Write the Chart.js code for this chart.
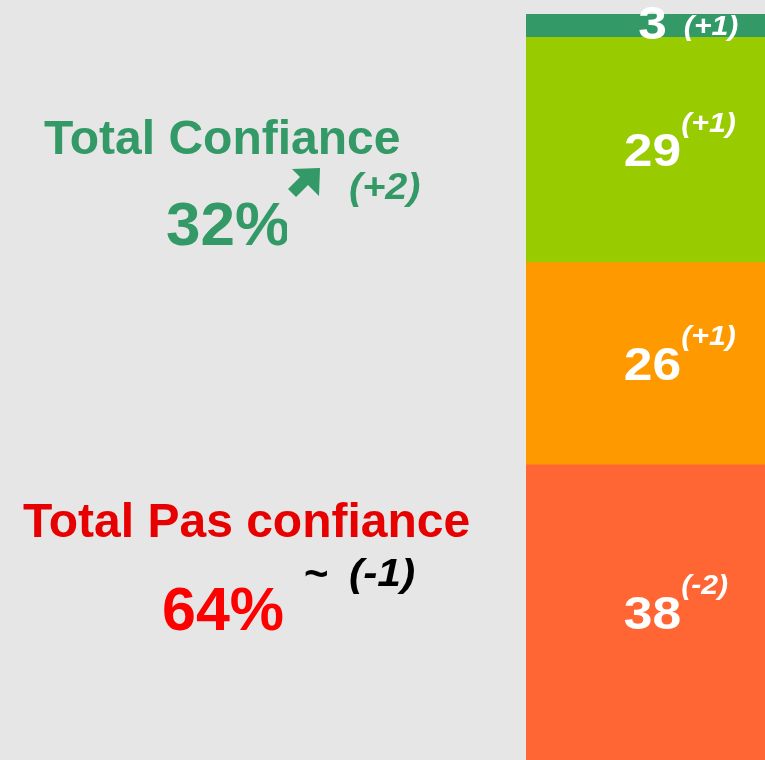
<!DOCTYPE html>
<html>
<head>
<meta charset="utf-8">
<script src="https://cdn.jsdelivr.net/npm/chart.js@4"></script>
<style>
  html, body { margin: 0; padding: 0; background: #e6e6e6; }
  #wrap { width: 765px; height: 760px; position: relative; }
</style>
</head>
<body>
<div id="wrap"><canvas id="chart"></canvas></div>
<script>
// données du graphique
const categories = ['Confiance'];
const segmentNames = ['Pas du tout confiance', 'Plutôt pas confiance', 'Plutôt confiance', 'Tout à fait confiance'];
const segmentValues = [38, 26, 29, 3];
const segmentDeltas = ['(-2)', '(+1)', '(+1)', '(+1)'];
const segmentColors = ['#ff6633', '#ff9900', '#99cc00', '#339966'];

const totalLabels = ['Total Confiance', 'Total Pas confiance'];
const totalValues = ['32%', '64%'];
const totalDeltas = ['(+2)', '(-1)'];

const FONT = '"Liberation Sans", Arial, sans-serif';

function drawText(ctx, text, x, y, font, color, sx, align) {
  ctx.save();
  ctx.font = font;
  ctx.fillStyle = color;
  ctx.textBaseline = 'alphabetic';
  ctx.textAlign = align || 'left';
  ctx.translate(x, y);
  ctx.scale(sx || 1, 1);
  ctx.fillText(text, 0, 0);
  ctx.restore();
}

// étiquettes des segments + textes de gauche
const labelPlugin = {
  id: 'labels',
  afterDatasetsDraw: function (chart) {
    const ctx = chart.ctx;
    const numSize = 46;
    const numStretch = 1.12;
    chart.data.datasets.forEach(function (ds, i) {
      const bar = chart.getDatasetMeta(i).data[0];
      const cy = (bar.y + bar.base) / 2;
      const cx = bar.x + 7;
      const txt = String(ds.data[0]);
      ctx.font = 'bold ' + numSize + 'px ' + FONT;
      const w = ctx.measureText(txt).width * numStretch;
      const small = Math.abs(bar.base - bar.y) < 40;
      const base = small ? cy + 13 : cy + numSize * 0.358;
      drawText(ctx, txt, cx, base, 'bold ' + numSize + 'px ' + FONT, '#ffffff', numStretch, 'center');
      const supBase = small ? base - 4 : base - numSize * 0.716 - 2;
      const supX = cx + w / 2 + (small ? 17 : 0);
      drawText(ctx, segmentDeltas[i], supX, supBase, 'italic bold 28px ' + FONT, '#ffffff', 1.08);
    });

    // bloc confiance
    drawText(ctx, totalLabels[0], 44, 154, 'bold 48px ' + FONT, '#339966');
    ctx.save();
    ctx.beginPath();
    ctx.rect(0, 150, 287, 120);
    ctx.clip();
    drawText(ctx, totalValues[0], 166, 245, 'bold 62px ' + FONT, '#339966');
    ctx.restore();
    // flèche
    ctx.save();
    ctx.fillStyle = '#339966';
    ctx.beginPath();
    ctx.moveTo(320, 168);
    ctx.lineTo(292, 169);
    ctx.lineTo(300, 177);
    ctx.lineTo(288, 189);
    ctx.lineTo(296, 197);
    ctx.lineTo(308, 185);
    ctx.lineTo(319, 196);
    ctx.closePath();
    ctx.fill();
    ctx.restore();
    drawText(ctx, totalDeltas[0], 349, 199, 'italic bold 36px ' + FONT, '#339966', 1.1);

    // bloc pas confiance
    drawText(ctx, totalLabels[1], 23, 537, 'bold 48px ' + FONT, '#e60000');
    ctx.save();
    ctx.beginPath();
    ctx.rect(0, 540, 285, 120);
    ctx.clip();
    drawText(ctx, totalValues[1], 162, 630, 'bold 61px ' + FONT, '#ff0000');
    ctx.restore();
    drawText(ctx, '~', 304, 588, 'bold 42px ' + FONT, '#000000');
    drawText(ctx, totalDeltas[1], 349, 586, 'italic bold 38px ' + FONT, '#000000', 1.12);
  }
};

const datasets = segmentValues.map(function (v, i) {
  return {
    label: segmentNames[i],
    data: [v],
    backgroundColor: segmentColors[i],
    borderWidth: 0,
    barPercentage: 1,
    categoryPercentage: 1
  };
});

new Chart(document.getElementById('chart'), {
  type: 'bar',
  data: { labels: categories, datasets: datasets },
  options: {
    responsive: true,
    maintainAspectRatio: false,
    animation: false,
    layout: { padding: { left: 526, top: 14, right: 0, bottom: 0 } },
    plugins: {
      legend: { display: false },
      tooltip: { enabled: false }
    },
    scales: {
      x: { stacked: true, display: false },
      y: { stacked: true, display: false, min: 0, max: 96 }
    }
  },
  plugins: [labelPlugin]
});
</script>
</body>
</html>
